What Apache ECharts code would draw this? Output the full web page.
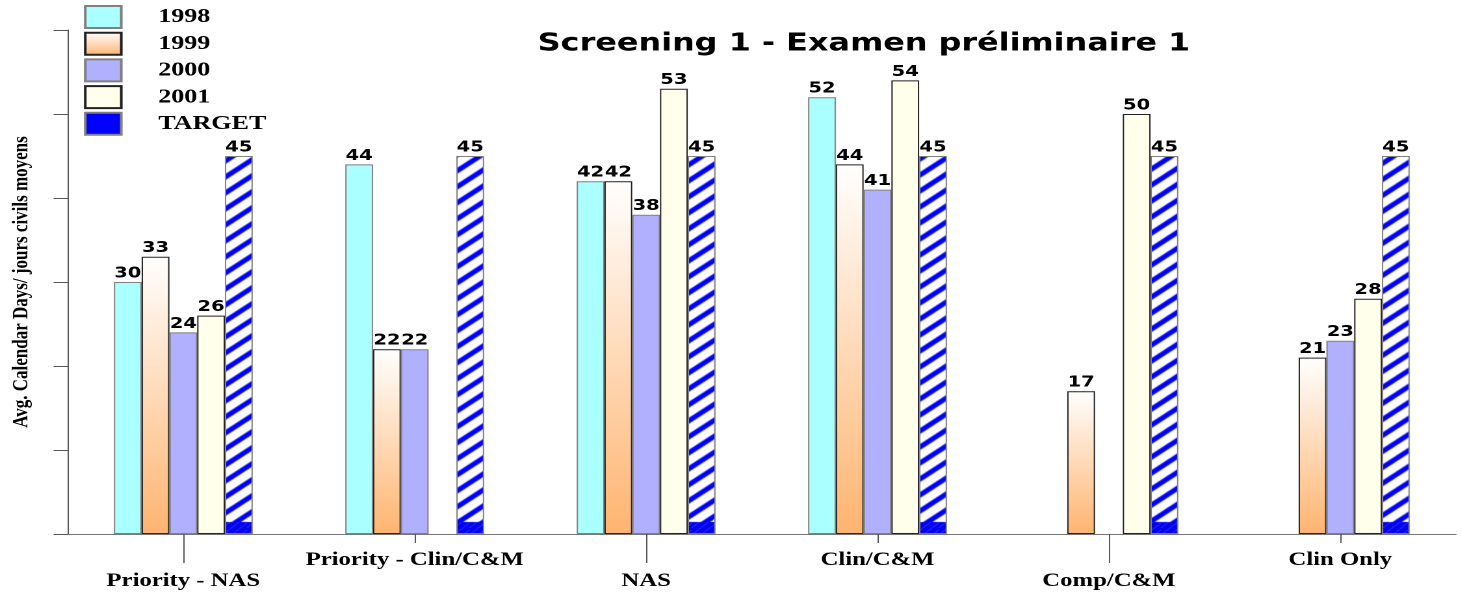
<!DOCTYPE html>
<html>
<head>
<meta charset="utf-8">
<script src="https://cdn.jsdelivr.net/npm/echarts@6/dist/echarts.min.js"></script>
<style>
  html, body { margin: 0; padding: 0; background: #fff; overflow: hidden; }
  #chart { width: 1124px; height: 592px; transform: scaleX(1.3); transform-origin: 0 0; }
</style>
</head>
<body>
<div id="chart"></div>
<script>
// ---- data ----
const categories = ['Priority - NAS', 'Priority - Clin/C&M', 'NAS', 'Clin/C&M', 'Comp/C&M', 'Clin Only'];
const seriesNames = ['1998', '1999', '2000', '2001', 'TARGET'];
const v1998 = [30, 44, 42, 52, null, null];
const v1999 = [33, 22, 42, 44, 17, 21];
const v2000 = [24, 22, 38, 41, null, 23];
const v2001 = [26, null, 53, 54, 50, 28];
const vTarget = [45, 45, 45, 45, 45, 45];
const yMin = 0, yMax = 60, yStep = 10;

// ---- styles ----
const H = 592, gridTop = 30, gridBottom = 58;
function makeTargetPattern() {
  const w = 19, p = 16, t = 6;
  const c = document.createElement('canvas');
  c.width = w; c.height = H;
  const g = c.getContext('2d');
  g.fillStyle = '#ffffff'; g.fillRect(0, 0, w, H);
  g.fillStyle = '#0000ff';
  for (let y = -p * 2; y < H + p * 2; y += p) {
    g.beginPath();
    g.moveTo(0, y); g.lineTo(w, y - p); g.lineTo(w, y - p + t); g.lineTo(0, y + t);
    g.closePath(); g.fill();
  }
  const blockTop = H - gridBottom - 12;
  g.fillStyle = '#0000f0'; g.fillRect(0, blockTop, w, H - blockTop);
  g.strokeStyle = 'rgba(120,120,255,0.6)'; g.lineWidth = 0.7;
  for (let x = -20; x < w + 20; x += 7) {
    g.beginPath(); g.moveTo(x, H - gridBottom); g.lineTo(x + 12, blockTop); g.stroke();
  }
  return c;
}
const serif = 'Liberation Serif';
const sans = 'DejaVu Sans';

const styles = [
  { color: '#aaffff', borderColor: '#808080', borderWidth: 1 },
  { color: { type: 'linear', x: 0, y: 0, x2: 0, y2: 1, colorStops: [{ offset: 0, color: '#ffffff' }, { offset: 1, color: '#ffb470' }] }, borderColor: '#222222', borderWidth: 1 },
  { color: '#b0b0ff', borderColor: '#808080', borderWidth: 1 },
  { color: '#ffffec', borderColor: '#222222', borderWidth: 1 },
  { color: { image: makeTargetPattern(), repeat: 'repeat' }, borderColor: '#808080', borderWidth: 1 }
];
const dataSets = [v1998, v1999, v2000, v2001, vTarget];

const chart = echarts.init(document.getElementById('chart'), null, { renderer: 'canvas', devicePixelRatio: 2 });

const series = seriesNames.map((name, i) => ({
  name: name,
  type: 'bar',
  xAxisIndex: 0,
  data: dataSets[i],
  barGap: '0%',
  barCategoryGap: '40%',
  itemStyle: styles[i],
  label: {
    show: true, position: 'top', distance: 1,
    fontFamily: sans, fontWeight: 'bold', fontSize: 15, color: '#000'
  }
}));

chart.setOption({
  animation: false,
  backgroundColor: '#ffffff',
  title: {
    text: 'Screening 1 - Examen préliminaire 1',
    left: 664.6, top: 32, padding: 0, textAlign: 'center',
    textStyle: { fontFamily: sans, fontWeight: 'bold', fontSize: 24.5, color: '#000', lineHeight: 24 }
  },
  legend: {
    orient: 'vertical', left: 64.6, top: 5, padding: 0,
    itemWidth: 27.7, itemHeight: 22, itemGap: 2.7,
    icon: 'rect',
    data: seriesNames.map((n, i) => i === 4 ? { name: n, itemStyle: { color: '#0000ff', borderColor: '#808080' } } : { name: n }),
    textStyle: { fontFamily: serif, fontWeight: 'bold', fontSize: 20, color: '#000', lineHeight: 22, padding: [0, 0, 0, 23.5] }
  },
  grid: { left: 51, right: 4, top: gridTop, bottom: gridBottom, containLabel: false },
  xAxis: [
    {
      type: 'category', data: categories, position: 'bottom',
      axisLine: { show: true, lineStyle: { color: '#777', width: 1 } },
      axisTick: { show: true, alignWithLabel: true, interval: 0, length: 9, lineStyle: { color: '#555' } },
      axisLabel: {
        interval: 0, margin: 15.5, fontFamily: serif, fontWeight: 'bold', fontSize: 19, lineHeight: 21, color: '#000',
        formatter: (v, i) => (i % 2 === 0 ? '\n' + v : v)
      },
      splitLine: { show: false }
    },
    {
      type: 'category', data: categories, position: 'bottom', gridIndex: 0,
      axisLine: { show: false },
      axisTick: { show: true, alignWithLabel: true, interval: (i) => i % 2 === 0, length: 29, lineStyle: { color: '#555' } },
      axisLabel: { show: false },
      splitLine: { show: false }
    }
  ],
  yAxis: {
    type: 'value', min: yMin, max: yMax, interval: yStep,
    name: 'Avg. Calendar Days/ jours civils moyens',
    nameLocation: 'middle', nameRotate: 90, nameGap: 27,
    nameTextStyle: { fontFamily: serif, fontWeight: 'bold', fontSize: 17, color: '#000' },
    axisLine: { show: true, lineStyle: { color: '#555' } },
    axisTick: { show: true, inside: false, length: 10.8, lineStyle: { color: '#555' } },
    axisLabel: { show: false },
    splitLine: { show: false }
  },
  series: series
});
</script>
</body>
</html>
